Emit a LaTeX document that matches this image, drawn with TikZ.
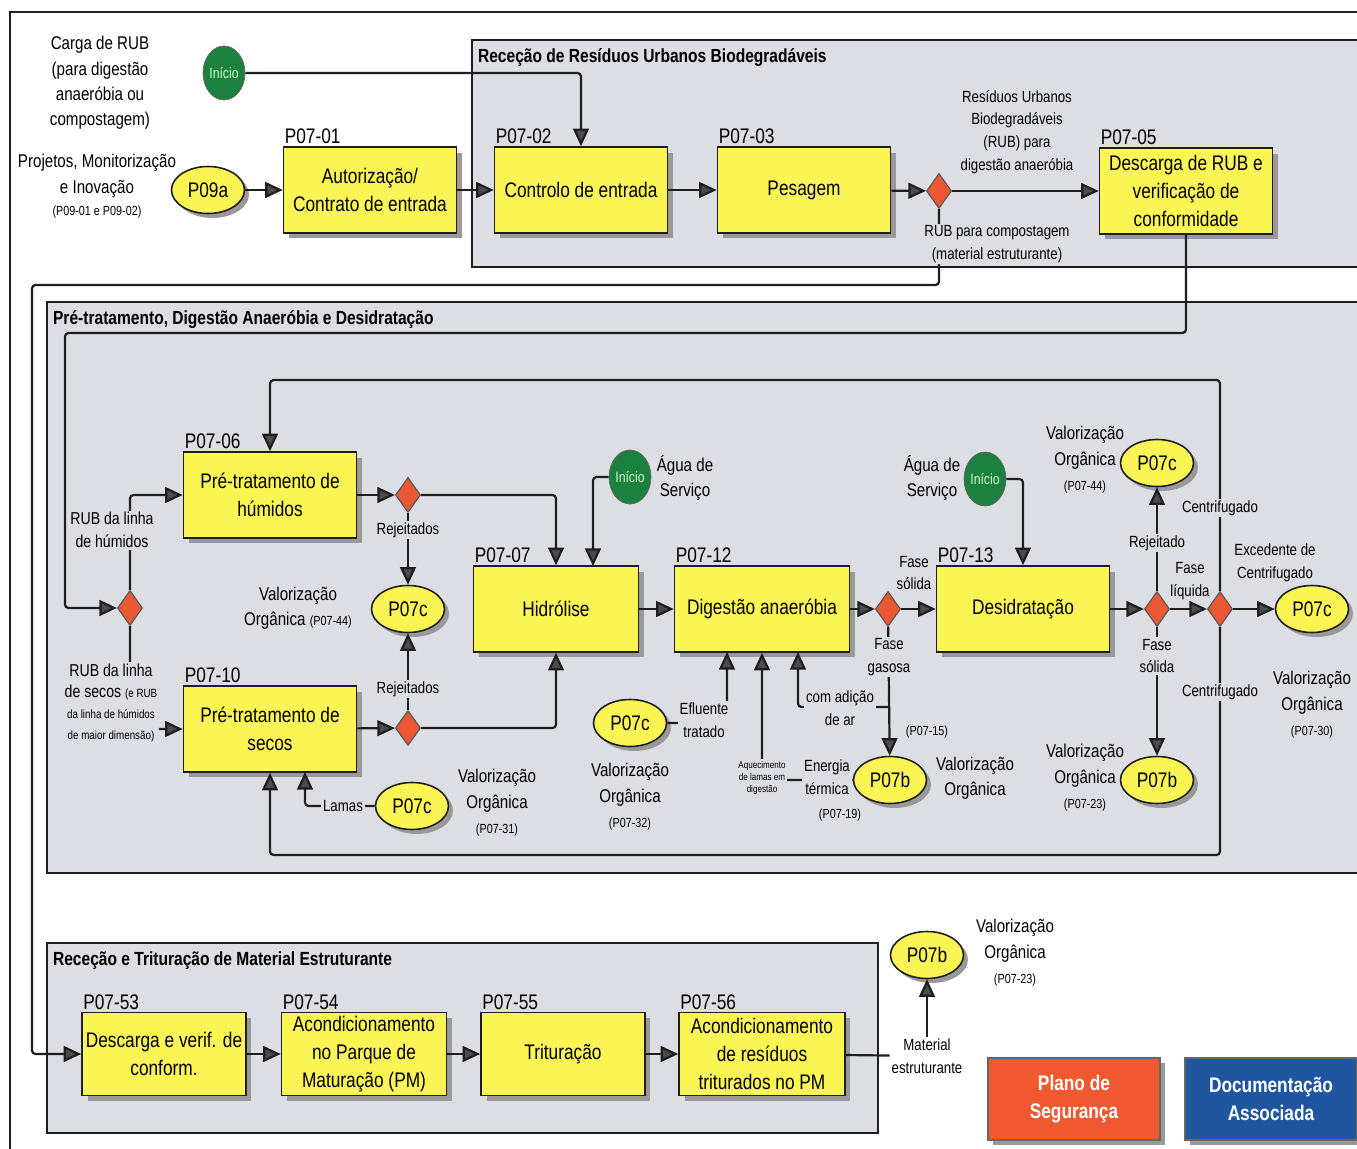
\documentclass[tikz,border=0pt]{standalone}
\usepackage{fontspec}
\setmainfont[FakeStretch=0.82]{Liberation Sans}
\usetikzlibrary{shapes.geometric,arrows.meta,shadows,calc}
\definecolor{boxy}{RGB}{250,245,85}
\definecolor{secg}{RGB}{221,221,228}
\definecolor{diaor}{RGB}{236,88,52}
\definecolor{inig}{RGB}{28,128,62}
\definecolor{planor}{RGB}{240,88,48}
\definecolor{docbl}{RGB}{32,86,160}
\definecolor{lnc}{RGB}{30,30,30}
\newcommand\zfA{\fontsize{12}{16}\selectfont}
\newcommand\zfB{\fontsize{10.5}{14.5}\selectfont}
\newcommand\zfC{\fontsize{9.2}{13}\selectfont}
\newcommand\zfD{\fontsize{7.5}{9}\selectfont}
\newcommand\zfE{\fontsize{5.6}{7}\selectfont}
\begin{document}
\begin{tikzpicture}[x=0.02cm,y=-0.02cm,
  sec/.style={draw=lnc, line width=0.9pt, fill=secg},
  ttl/.style={font=\fontsize{10.8}{12}\selectfont\bfseries, inner sep=1pt},
  box/.style={draw=lnc, line width=0.9pt, fill=boxy, minimum width=3.46cm, minimum height=1.72cm, align=center, inner sep=1pt, font=\zfA, drop shadow={shadow xshift=0.11cm, shadow yshift=-0.11cm, fill=black!40, opacity=1}},
  plab/.style={font=\zfA, inner sep=1pt, anchor=south west},
  dia/.style={diamond, draw=black!65, fill=diaor, line width=0.7pt, minimum width=0.5cm, minimum height=0.7cm, inner sep=0pt},
  ell/.style={ellipse, draw=lnc, line width=0.9pt, fill=boxy, minimum width=1.46cm, minimum height=0.94cm, inner sep=0pt, font=\zfA, drop shadow={shadow xshift=0.09cm, shadow yshift=-0.09cm, fill=black!40, opacity=1}},
  ini/.style={ellipse, draw=black!60, fill=inig, minimum width=0.84cm, minimum height=1.08cm, inner sep=0pt, font=\fontsize{8.5}{9}\selectfont, text=white!80!green},
  arr/.style={draw=lnc, line width=1.25pt, rounded corners=2pt, -{Triangle[length=10pt,width=9pt,fill=black!70]}},
  ln/.style={draw=lnc, line width=1.25pt, rounded corners=2pt},
  lbl/.style={fill=secg, inner sep=1pt, align=center, font=\zfC},
  txt/.style={inner sep=1pt, align=center, font=\zfB},
  btn/.style={draw=black!60, line width=0.6pt, minimum width=3.44cm, minimum height=1.64cm, align=center, text=white, font=\fontsize{12}{16}\selectfont\bfseries, drop shadow={shadow xshift=0.1cm, shadow yshift=-0.1cm, fill=black!40, opacity=1}}
]
\useasboundingbox (0,0) rectangle (1357,1149);
\clip (0,0) rectangle (1357,1149);
\fill[white] (0,0) rectangle (1357,1149);
\draw[line width=0.8pt, lnc] (10,1170) -- (10,12) -- (1370,12);
% sections
\draw[sec] (472,40) rectangle (1370,267);
\draw[sec] (47,302) rectangle (1370,873);
\draw[sec] (47,943) rectangle (878,1133);
\node[ttl, anchor=west] (tt1) at (476,58) {Receção de Resíduos Urbanos Biodegradáveis};
\node[ttl, anchor=west] (tt2) at (51,320) {Pré-tratamento, Digestão Anaeróbia e Desidratação};
\node[ttl, anchor=west] (tt3) at (51,961) {Receção e Trituração de Material Estruturante};
% boxes
\node[box] (p01) at (370,190) {Autorização/\\Contrato de entrada};
\node[box] (p02) at (581,190) {Controlo de entrada};
\node[box] (p03) at (804,190) {Pesagem};
\node[box] (p05) at (1186,191) {Descarga de RUB e\\verificação de\\conformidade};
\node[box] (p06) at (270,495) {Pré-tratamento de\\húmidos};
\node[box] (p10) at (270,729) {Pré-tratamento de\\secos};
\node[box, minimum width=3.3cm] (p07) at (556,609) {Hidrólise};
\node[box, minimum width=3.5cm] (p12) at (762,609) {Digestão anaeróbia};
\node[box] (p13) at (1023,609) {Desidratação};
\node[box, minimum width=3.28cm, minimum height=1.66cm] (p53) at (164,1054) {Descarga e verif. de\\conform.};
\node[box, minimum width=3.3cm, minimum height=1.66cm] (p54) at (364,1054) {Acondicionamento\\no Parque de\\Maturação (PM)};
\node[box, minimum width=3.28cm, minimum height=1.66cm] (p55) at (563,1054) {Trituração};
\node[box, minimum width=3.32cm, minimum height=1.66cm] (p56) at (762,1054) {Acondicionamento\\de resíduos\\triturados no PM};
% box labels
\node[plab] (l01) at (p01.north west) {P07-01};
\node[plab] (l02) at (p02.north west) {P07-02};
\node[plab] (l03) at (p03.north west) {P07-03};
\node[plab] (l05) at (p05.north west) {P07-05};
\node[plab] (l06) at (p06.north west) {P07-06};
\node[plab] (l10) at (p10.north west) {P07-10};
\node[plab] (l07) at (p07.north west) {P07-07};
\node[plab] (l12) at (p12.north west) {P07-12};
\node[plab] (l13) at (p13.north west) {P07-13};
\node[plab] (l53) at (p53.north west) {P07-53};
\node[plab] (l54) at (p54.north west) {P07-54};
\node[plab] (l55) at (p55.north west) {P07-55};
\node[plab] (l56) at (p56.north west) {P07-56};
% diamonds
\node[dia] (d1) at (939,191) {};
\node[dia] (dh) at (408,495) {};
\node[dia] (ds) at (408,728) {};
\node[dia] (dl) at (130,608) {};
\node[dia] (dg) at (888,609) {};
\node[dia] (dr1) at (1157,609) {};
\node[dia] (dr2) at (1220,609) {};
% ellipses
\node[ell] (e09) at (208,190) {P09a};
\node[ell] (ec1) at (408,609) {P07c};
\node[ell] (ec2) at (412,806) {P07c};
\node[ell] (ec3) at (630,723) {P07c};
\node[ell] (eb1) at (890,780) {P07b};
\node[ell] (ec4) at (1157,463) {P07c};
\node[ell] (eb2) at (1157,780) {P07b};
\node[ell] (ec5) at (1312,609) {P07c};
\node[ell] (eb3) at (927,955) {P07b};
% inicio
\node[ini] (i1) at (224,73) {Início};
\node[ini] (i2) at (630,477) {Início};
\node[ini] (i3) at (985,479) {Início};
% material node
\node[inner sep=1pt, align=center, font=\zfC] (matl) at (927,1056) {Material\\estruturante};
% coordinates
\coordinate (c1) at (939,285);
\coordinate (c2) at (32,285);
\coordinate (c3) at (1186,333);
\coordinate (c4) at (65,333);
\coordinate (h1) at (593,566);
\coordinate (t1) at (1220,380);
\coordinate (b1) at (1220,855);
\coordinate (lm) at (305,772);
\coordinate (ef) at (727,652);
\coordinate (ca) at (798,652);
\coordinate (g1) at (888,707);
% connectors
\draw[arr] (i1) -| (p02);
\draw[arr] (e09) -- (p01);
\draw[arr] (p01) -- (p02);
\draw[arr] (p02) -- (p03);
\draw[arr] (p03) -- (d1);
\draw[arr] (d1) -- (p05);
\draw[arr] (d1) -- (c1) -- (c2) |- (p53);
\draw[arr] (p05) -- (c3) -- (c4) |- (dl);
\draw[arr] (dl) |- (p06);
\draw[arr] (dl) |- (p10);
\draw[arr] (p06) -- (dh);
\draw[arr] (dh) -| (p07);
\draw[arr] (dh) -- (ec1);
\draw[arr] (p10) -- (ds);
\draw[arr] (ds) -| (p07);
\draw[arr] (ds) -- (ec1);
\draw[arr] (i2) -| (h1);
\draw[arr] (p07) -- (p12);
\draw[arr] (p12) -- (dg);
\draw[arr] (dg) -- (p13);
\draw[arr] (dg) -- (eb1);
\draw[arr] (g1) -| (ca);
\draw[arr] (ec3) -| (ef);
\draw[arr] (eb1) -| (p12);
\draw[arr] (i3) -| (p13);
\draw[arr] (p13) -- (dr1);
\draw[arr] (dr1) -- (dr2);
\draw[arr] (dr2) -- (ec5);
\draw[arr] (dr1) -- (ec4);
\draw[arr] (dr1) -- (eb2);
\draw[arr] (dr2) -- (t1) -| (p06);
\draw[arr] (dr2) -- (b1) -| (p10);
\draw[arr] (ec2) -| (lm);
\draw[arr] (p53) -- (p54);
\draw[arr] (p54) -- (p55);
\draw[arr] (p55) -- (p56);
\draw[ln] (p56) -- (matl);
\draw[arr] (matl) -- (eb3);
% labels covering lines
\node[lbl, font=\zfC, fill=secg] (rpc) at (997,244) {RUB para compostagem\\(material estruturante)};
\node[lbl, font=\fontsize{9.8}{13}\selectfont] (lhum) at (112,530) {RUB da linha\\de húmidos};
\node[lbl, font=\fontsize{9.8}{12}\selectfont] (lsec) at (111,703) {RUB da linha\\de secos {\fontsize{6.8}{9}\selectfont(e RUB}\\{\fontsize{6.8}{9}\selectfont da linha de húmidos}\\{\fontsize{6.8}{9}\selectfont de maior dimensão)}};
\node[lbl] (rj1) at (408,530) {Rejeitados};
\node[lbl] (rj2) at (408,689) {Rejeitados};
\node[lbl] (fgs) at (889,657) {Fase\\gasosa};
\node[lbl] (rj3) at (1157,543) {Rejeitado};
\node[lbl] (fs2) at (1157,656) {Fase\\sólida};
\node[lbl] (cf1) at (1220,508) {Centrifugado};
\node[lbl] (cf2) at (1220,692) {Centrifugado};
\node[lbl] (lms) at (343,806) {Lamas};
\node[lbl] (eft) at (704,720) {Efluente\\tratado};
\node[lbl] (ent) at (827,777) {Energia\\térmica};
\node[lbl, font=\zfE] (aq) at (762,778) {Aquecimento\\de lamas em\\digestão};
\node[lbl] (cad) at (840,708) {com adição\\de ar};
% plain texts
\node[txt] (tcg) at (100,83) {Carga de RUB\\(para digestão\\anaeróbia ou\\compostagem)};
\node[txt] (tpm) at (97,176) {Projetos, Monitorização\\e Inovação};
\node[txt, font=\zfD] (tpm2) at (97,212) {(P09-01 e P09-02)};
\node[txt, font=\zfC] (trub) at (1017,132) {Resíduos Urbanos\\Biodegradáveis\\(RUB) para\\digestão anaeróbia};
\node[txt, font=\zfC] (fs1) at (914,573) {Fase\\sólida};
\node[txt, font=\zfC] (flq) at (1190,581) {Fase\\líquida};
\node[txt, font=\zfC] (exc) at (1275,563) {Excedente de\\Centrifugado};
\node[txt, font=\zfD] (p15) at (927,732) {(P07-15)};
\node[txt, font=\zfD] (p19) at (840,815) {(P07-19)};
\node[txt] (ag1) at (685,478) {Água de\\Serviço};
\node[txt] (ag2) at (932,478) {Água de\\Serviço};
\node[txt] (v1) at (298,608) {Valorização\\Orgânica {\zfD(P07-44)}};
\node[txt] (v2) at (497,803) {Valorização\\Orgânica\\{\zfD(P07-31)}};
\node[txt] (v3) at (630,797) {Valorização\\Orgânica\\{\zfD(P07-32)}};
\node[txt] (v4) at (975,778) {Valorização\\Orgânica};
\node[txt] (v5) at (1085,460) {Valorização\\Orgânica\\{\zfD(P07-44)}};
\node[txt] (v6) at (1085,778) {Valorização\\Orgânica\\{\zfD(P07-23)}};
\node[txt] (v7) at (1312,705) {Valorização\\Orgânica\\{\zfD(P07-30)}};
\node[txt] (v8) at (1015,953) {Valorização\\Orgânica\\{\zfD(P07-23)}};
% buttons
\node[btn, fill=planor] (pls) at (1074,1099) {Plano de\\Segurança};
\node[btn, fill=docbl] (doc) at (1271,1099) {Documentação\\Associada};
\end{tikzpicture}
\end{document}
